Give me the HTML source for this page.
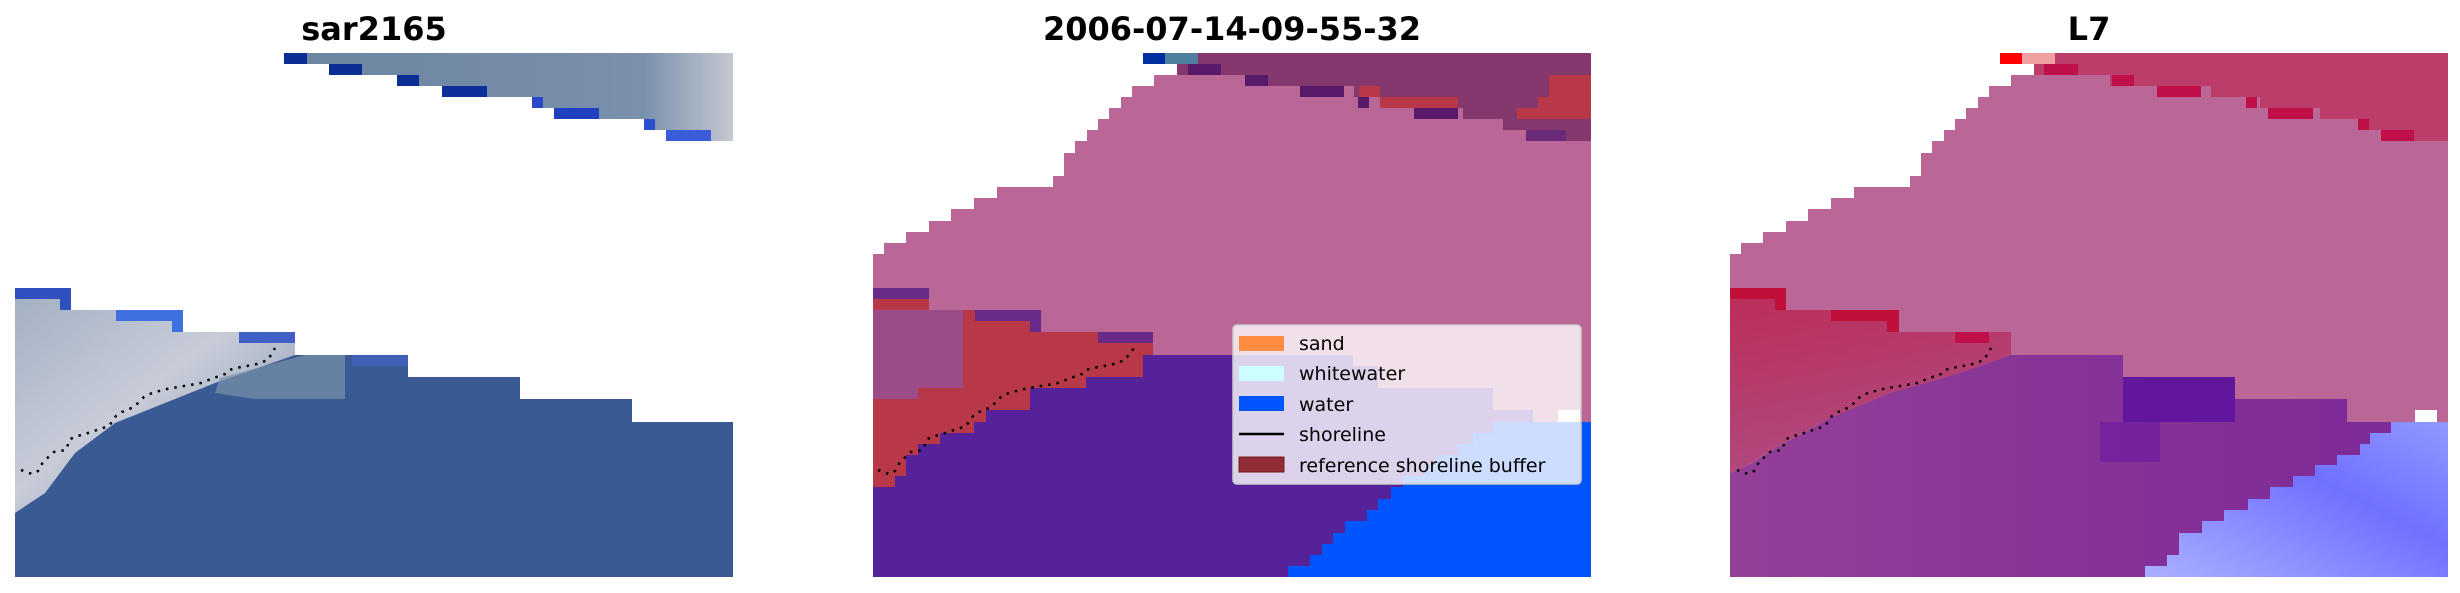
<!DOCTYPE html>
<html><head><meta charset="utf-8"><style>
html,body{margin:0;padding:0;background:#fff;}
svg{display:block;}
text{font-family:"DejaVu Sans","Liberation Sans",sans-serif;}
</style></head><body>
<svg width="2460" height="593" viewBox="0 0 2460 593" xmlns="http://www.w3.org/2000/svg">
<defs>
<linearGradient id="wg" x1="0" y1="0" x2="1" y2="1">
<stop offset="0" stop-color="#a4b0c4"/><stop offset="0.45" stop-color="#c8ccd8"/><stop offset="1" stop-color="#7890ac"/>
</linearGradient>
<linearGradient id="tg" x1="0" y1="0" x2="1" y2="0">
<stop offset="0" stop-color="#6a84a0"/><stop offset="0.8" stop-color="#7a90ac"/><stop offset="1" stop-color="#c4c8d0"/>
</linearGradient>
<linearGradient id="rg3" x1="0" y1="0" x2="0.3" y2="1">
<stop offset="0" stop-color="#bc2c58"/><stop offset="1" stop-color="#b04a80"/>
</linearGradient>
<linearGradient id="bg3" x1="0" y1="1" x2="1" y2="0">
<stop offset="0" stop-color="#aab0ff"/><stop offset="0.6" stop-color="#7070ff"/><stop offset="1" stop-color="#9098ff"/>
</linearGradient>
<linearGradient id="pg3" x1="0" y1="0" x2="1" y2="0">
<stop offset="0" stop-color="#944098"/><stop offset="0.6" stop-color="#843098"/><stop offset="1" stop-color="#7c2a98"/>
</linearGradient>
</defs>

<text x="374" y="40" font-size="32" font-weight="bold" text-anchor="middle">sar2165</text>
<text x="1232" y="40" font-size="32" font-weight="bold" text-anchor="middle">2006-07-14-09-55-32</text>
<text x="2089" y="40" font-size="32" font-weight="bold" text-anchor="middle">L7</text>

<!-- Panel 1 -->
<g transform="translate(15,53)">
<polygon fill="url(#tg)" points="269,0 718,0 718,88 651,88 651,77 629,77 629,66 539,66 539,55 517,55 517,44 427,44 427,33 382,33 382,22 314,22 314,11 269,11"/>
<rect x="269" y="0" width="23" height="11" fill="#0a2e94"/>
<rect x="314" y="11" width="33" height="11" fill="#0a2e94"/>
<rect x="382" y="22" width="22" height="11" fill="#0a2e94"/>
<rect x="427" y="33" width="45" height="11" fill="#0c3098"/>
<rect x="517" y="44" width="11" height="11" fill="#2a48c8"/>
<rect x="539" y="55" width="45" height="11" fill="#2040c0"/>
<rect x="629" y="66" width="11" height="11" fill="#2a50d0"/>
<rect x="651" y="77" width="45" height="11" fill="#3a5cd8"/>
<polygon fill="#3a5a94" points="0,235 56,235 56,257 168,257 168,279 280,279 280,302 393,302 393,324 505,324 505,346 617,346 617,369 718,369 718,524 0,524"/>
<polygon fill="url(#wg)" points="0,246 56,246 56,257 168,257 168,279 280,279 280,302 240,316 200,330 150,350 100,370 60,400 30,440 0,460"/>
<polygon fill="#7a92aa" opacity="0.7" points="205,325 290,302 330,302 330,346 240,346 200,340"/>
<rect x="0" y="235" width="56" height="11" fill="#3050c0"/>
<rect x="45" y="246" width="11" height="11" fill="#3050c0"/>
<rect x="101" y="257" width="67" height="11" fill="#4070e0"/>
<rect x="157" y="268" width="11" height="11" fill="#4070e0"/>
<rect x="224" y="279" width="56" height="11" fill="#4060c8"/>
<rect x="337" y="302" width="56" height="11" fill="#4060b8"/>
<polyline fill="none" stroke="#000" stroke-width="2.5" stroke-dasharray="2.5 6" points="6,417 17,421 23,418 28,409 39,399 51,397 55,386 63,383 73,380 85,376 94,373 101,363 107,359 119,354 129,344 137,340 152,336 163,334 175,332 186,330 196,326 210,321 214,317 221,315 232,313 242,311 253,307 260,295"/>
</g>

<!-- Panel 2 -->
<g transform="translate(873,53)">
<polygon fill="#ba6696" points="0,235 0,201 11,201 11,190 33,190 33,179 56,179 56,168 78,168 78,156 101,156 101,145 124,145 124,134 180,134 180,123 191,123 191,100 202,100 202,88 214,88 214,77 225,77 225,66 236,66 236,55 248,55 248,44 259,44 259,33 281,33 281,22 718,22 718,369 0,369"/>
<polygon fill="#84386e" points="325,0 718,0 718,88 655,88 655,77 630,77 630,66 590,66 590,55 530,55 530,44 481,44 481,33 380,33 380,22 304,22 304,11 325,11"/>
<rect x="270" y="0" width="22" height="11" fill="#0030a0"/>
<rect x="292" y="0" width="33" height="11" fill="#5080a0"/>
<rect x="315" y="11" width="33" height="11" fill="#5a1a6a"/>
<rect x="372" y="22" width="23" height="11" fill="#5a1a6a"/>
<rect x="427" y="33" width="44" height="11" fill="#5a1a6a"/>
<rect x="485" y="44" width="11" height="11" fill="#5a1a6a"/>
<rect x="541" y="55" width="44" height="11" fill="#5a1a6a"/>
<rect x="653" y="77" width="40" height="11" fill="#6a2a7a"/>
<rect x="507" y="44" width="78" height="11" fill="#b83848"/>
<rect x="486" y="33" width="21" height="11" fill="#b83848"/>
<polygon fill="#b83848" points="676,22 718,22 718,66 644,66 644,55 665,55 665,44 676,44"/>
<polygon fill="#55229a" points="0,434 22,434 22,423 33,423 33,402 45,402 45,391 67,391 67,380 101,380 101,369 113,369 113,357 157,357 157,335 213,335 213,324 270,324 270,302 480,302 480,313 505,313 505,335 620,335 620,357 660,357 660,369 718,369 718,524 0,524"/>
<polygon fill="#0055ff" points="415,524 415,513 437,513 437,502 449,502 449,491 460,491 460,480 472,480 472,468 494,468 494,457 505,457 505,446 518,446 518,434 530,434 530,423 552,423 552,412 563,412 563,402 585,402 585,391 600,391 600,380 620,380 620,369 718,369 718,524"/>
<rect x="685" y="357" width="22" height="12" fill="#fff"/>
<polygon fill="#b83848" points="0,246 56,246 56,257 168,257 168,279 280,279 280,302 270,302 270,324 213,324 213,335 157,335 157,357 113,357 113,369 101,369 101,380 67,380 67,391 45,391 45,402 33,402 33,423 22,423 22,434 0,434"/>
<polygon fill="#9c4c88" points="0,257 90,257 90,335 45,335 45,346 0,346"/>
<rect x="0" y="235" width="56" height="11" fill="#6a2a88"/>
<rect x="102" y="257" width="66" height="11" fill="#6a2a8a"/>
<rect x="157" y="268" width="11" height="11" fill="#6a2a8a"/>
<rect x="225" y="279" width="55" height="11" fill="#6a2a8a"/>
<polyline fill="none" stroke="#000" stroke-width="2.5" stroke-dasharray="2.5 6" points="5,417 16,421 22,418 27,409 38,399 50,397 54,386 62,383 72,380 84,376 93,373 100,363 106,359 118,354 128,344 136,340 151,336 162,334 174,332 185,330 195,326 209,321 213,317 220,315 231,313 241,311 252,307 261,295"/>
<rect x="360" y="272" width="348" height="159" rx="4" fill="#ffffff" fill-opacity="0.8" stroke="#cccccc" stroke-width="1.5"/>
<rect x="366" y="283" width="45" height="15" fill="#ff8c40"/>
<rect x="366" y="313" width="45" height="15" fill="#ccffff"/>
<rect x="366" y="343" width="45" height="15" fill="#0055ff"/>
<line x1="366" y1="381" x2="411" y2="381" stroke="#000" stroke-width="2.5"/>
<rect x="366" y="404" width="45" height="15" fill="#902c34" stroke="#7a1a22" stroke-width="1"/>
<g font-size="19" fill="#000">
<text x="426" y="297">sand</text>
<text x="426" y="327">whitewater</text>
<text x="426" y="358">water</text>
<text x="426" y="388">shoreline</text>
<text x="426" y="419">reference shoreline buffer</text>
</g>
</g>

<!-- Panel 3 -->
<g transform="translate(1730,53)">
<polygon fill="#ba6696" points="0,235 0,201 11,201 11,190 33,190 33,179 56,179 56,168 78,168 78,156 101,156 101,145 124,145 124,134 180,134 180,123 191,123 191,100 202,100 202,88 214,88 214,77 225,77 225,66 236,66 236,55 248,55 248,44 259,44 259,33 281,33 281,22 718,22 718,369 0,369"/>
<polygon fill="#bc3c6a" points="325,0 718,0 718,88 655,88 655,77 630,77 630,66 590,66 590,55 530,55 530,44 481,44 481,33 380,33 380,22 304,22 304,11 325,11"/>
<rect x="270" y="0" width="22" height="11" fill="#ff0000"/>
<rect x="292" y="0" width="33" height="11" fill="#f0a0a0"/>
<rect x="314" y="11" width="34" height="11" fill="#c0104a"/>
<rect x="382" y="22" width="22" height="11" fill="#c0104a"/>
<rect x="427" y="33" width="44" height="11" fill="#c0104a"/>
<rect x="516" y="44" width="11" height="11" fill="#c0104a"/>
<rect x="538" y="55" width="45" height="11" fill="#c0104a"/>
<rect x="628" y="66" width="11" height="11" fill="#c0104a"/>
<rect x="651" y="77" width="33" height="11" fill="#c0104a"/>
<polygon fill="url(#pg3)" points="0,524 0,420 22,410 45,395 100,365 160,340 230,320 281,302 393,302 393,324 505,324 505,346 617,346 617,369 685,369 685,357 707,357 707,369 718,369 718,524"/>
<rect x="393" y="324" width="112" height="45" fill="#5a10a0" opacity="0.8"/>
<rect x="370" y="369" width="60" height="40" fill="#6a1aa0" opacity="0.6"/>
<polygon fill="url(#bg3)" points="415,524 415,513 437,513 437,502 449,502 449,480 472,480 472,468 494,468 494,457 518,457 518,446 540,446 540,434 563,434 563,423 585,423 585,412 607,412 607,402 630,402 630,391 640,391 640,380 661,380 661,369 718,369 718,524"/>
<rect x="685" y="357" width="22" height="12" fill="#fff"/>
<polygon fill="url(#rg3)" points="0,235 56,235 56,257 169,257 169,279 281,279 281,302 230,320 160,340 100,365 45,395 22,410 0,420"/>
<rect x="0" y="235" width="56" height="11" fill="#c0103a"/>
<rect x="45" y="246" width="11" height="11" fill="#c0103a"/>
<rect x="101" y="257" width="68" height="11" fill="#c0103a"/>
<rect x="157" y="268" width="12" height="11" fill="#c0103a"/>
<rect x="225" y="279" width="34" height="11" fill="#c0104a"/>
<polyline fill="none" stroke="#000" stroke-width="2.5" stroke-dasharray="2.5 6" points="7,417 18,421 24,418 29,409 40,399 52,397 56,386 64,383 74,380 86,376 95,373 102,363 108,359 120,354 130,344 138,340 153,336 164,334 176,332 187,330 197,326 211,321 215,317 222,315 233,313 243,311 254,307 261,295"/>
</g>
</svg>
</body></html>
